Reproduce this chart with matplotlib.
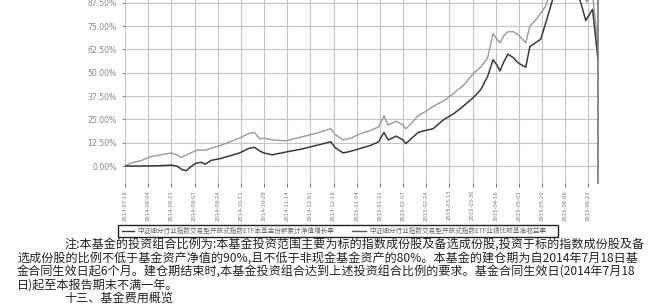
import matplotlib
matplotlib.use("Agg")
import matplotlib.pyplot as plt
from matplotlib.patches import Rectangle
from matplotlib.lines import Line2D
import pandas as pd

plt.rcParams["font.family"] = ["Noto Sans CJK SC", "DejaVu Sans"]

# cumulative NAV growth of the fund (dark line), percent
fund_dates = [
    "2014-07-18", "2014-07-30", "2014-08-13", "2014-08-21", "2014-08-25", "2014-08-29",
    "2014-09-01", "2014-09-04", "2014-09-08", "2014-09-12", "2014-09-15", "2014-09-19",
    "2014-09-26", "2014-10-03", "2014-10-10", "2014-10-17", "2014-10-21", "2014-10-25",
    "2014-10-28", "2014-11-03", "2014-11-13", "2014-11-24", "2014-12-05", "2014-12-16",
    "2014-12-19", "2014-12-25", "2014-12-31", "2015-01-07", "2015-01-14", "2015-01-20",
    "2015-01-24", "2015-01-27", "2015-02-02", "2015-02-07", "2015-02-09", "2015-02-12",
    "2015-02-18", "2015-02-23", "2015-03-01", "2015-03-09", "2015-03-16", "2015-03-23",
    "2015-03-31", "2015-04-05", "2015-04-10", "2015-04-14", "2015-04-17", "2015-04-19",
    "2015-04-22", "2015-04-25", "2015-04-29", "2015-05-03", "2015-05-08", "2015-05-11",
    "2015-05-15", "2015-05-19", "2015-05-24", "2015-05-28", "2015-06-02", "2015-06-08",
    "2015-06-13", "2015-06-18", "2015-06-21", "2015-06-26", "2015-06-30",
]
fund_pct = [
    0.0, 0.0, 0.2, 0.5, 0.0, -2.0,
    -2.5, -0.5, 1.5, 2.0, 1.0, 3.0,
    4.0, 5.5, 7.0, 9.5, 10.0, 8.0,
    7.0, 6.0, 7.5, 9.0, 11.0, 13.0,
    10.0, 7.0, 8.0, 9.5, 11.0, 13.0,
    18.0, 14.0, 16.0, 14.0, 12.0, 14.0,
    18.0, 19.0, 20.0, 25.0, 28.0, 32.0,
    37.0, 41.0, 48.0, 57.0, 54.0, 51.0,
    56.0, 60.0, 58.0, 55.0, 53.0, 64.0,
    66.0, 68.0, 80.0, 90.0, 96.0, 100.0,
    98.0, 86.0, 78.0, 84.0, 57.0,
]

# benchmark return (grey line), percent
bench_dates = [
    "2014-07-18", "2014-07-22", "2014-07-30", "2014-08-06", "2014-08-13", "2014-08-21",
    "2014-08-25", "2014-08-28", "2014-09-01", "2014-09-09", "2014-09-15", "2014-09-19",
    "2014-09-26", "2014-10-03", "2014-10-10", "2014-10-17", "2014-10-21", "2014-10-25",
    "2014-10-28", "2014-11-03", "2014-11-13", "2014-11-24", "2014-12-05", "2014-12-16",
    "2014-12-19", "2014-12-25", "2014-12-31", "2015-01-07", "2015-01-14", "2015-01-20",
    "2015-01-24", "2015-01-27", "2015-02-02", "2015-02-07", "2015-02-09", "2015-02-12",
    "2015-02-18", "2015-02-23", "2015-03-01", "2015-03-09", "2015-03-16", "2015-03-23",
    "2015-03-31", "2015-04-05", "2015-04-10", "2015-04-14", "2015-04-17", "2015-04-19",
    "2015-04-22", "2015-04-25", "2015-04-29", "2015-05-03", "2015-05-08", "2015-05-11",
    "2015-05-15", "2015-05-22", "2015-05-28", "2015-06-08", "2015-06-13", "2015-06-18",
    "2015-06-22", "2015-06-26", "2015-06-30",
]
bench_pct = [
    0.0, 1.5, 3.0, 5.0, 6.0, 7.0,
    6.0, 4.5, 6.0, 8.5, 8.5, 9.5,
    11.0, 13.0, 15.0, 17.5, 18.0, 14.5,
    15.0, 14.0, 13.5, 15.5, 17.5, 20.0,
    17.0, 14.0, 15.0, 17.5, 19.0, 21.0,
    27.0, 22.0, 24.0, 22.0, 20.0, 22.0,
    27.0, 29.0, 32.0, 35.0, 39.0, 43.0,
    50.0, 53.0, 58.0, 71.0, 68.0, 66.0,
    70.0, 72.0, 72.0, 70.0, 66.0, 75.0,
    78.0, 85.0, 96.0, 108.0, 106.0, 92.0,
    88.0, 92.0, 65.0,
]

tick_dates = [
    "2014-07-18", "2014-08-04", "2014-08-21", "2014-09-07", "2014-09-24", "2014-10-11",
    "2014-10-28", "2014-11-14", "2014-12-01", "2014-12-18", "2015-01-04", "2015-01-21",
    "2015-02-07", "2015-02-24", "2015-03-13", "2015-03-30", "2015-04-16", "2015-05-03",
    "2015-05-20", "2015-06-06", "2015-06-23",
]
y_ticks = [0, 12.5, 25, 37.5, 50, 62.5, 75, 87.5]

legend_labels = [
    "中证细分行业指数交易型开放式指数ETF本基金份额累计净值增长率",
    "中证细分行业指数交易型开放式指数ETF业绩比较基准收益率",
]

note_lines = [
    "注:本基金的投资组合比例为:本基金投资范围主要为标的指数成份股及备选成份股,投资于标的指数成份股及备",
    "选成份股的比例不低于基金资产净值的90%,且不低于非现金基金资产的80%。本基金的建仓期为自2014年7月18日基",
    "金合同生效日起6个月。建仓期结束时,本基金投资组合达到上述投资组合比例的要求。基金合同生效日(2014年7月18",
    "日)起至本报告期末不满一年。",
    "十三、基金费用概览",
]

W, H = 658, 305
fig = plt.figure(figsize=(W / 100, H / 100), dpi=100)


def fx(px):
    return px / W


def fy(py):
    # pixel row from the top -> figure fraction
    return 1 - py / H


# axes top runs past the figure edge: the source page is cropped there
ax = fig.add_axes([fx(125), fy(183), fx(598 - 125), 226.8 / H])

fd = pd.to_datetime(fund_dates)
bd = pd.to_datetime(bench_dates)
ax.plot(bd, bench_pct, color="#9a9a9a", lw=1.0)
ax.plot(fd, fund_pct, color="#3a3a3a", lw=1.1)

ax.set_xlim(pd.Timestamp("2014-07-18"), pd.Timestamp("2015-06-30"))
ax.set_ylim(-9.1, 112.5)
ax.set_yticks(y_ticks)
ax.set_yticklabels([f"{v:.2f}%" for v in y_ticks])
ax.set_xticks(pd.to_datetime(tick_dates))
ax.set_xticklabels(tick_dates, rotation=90)
ax.tick_params(axis="y", labelsize=5.6, colors="#888888", length=2, pad=4)
ax.tick_params(axis="x", labelsize=3.8, colors="#777777", length=3, pad=2)
for lab in ax.get_xticklabels() + ax.get_yticklabels():
    lab.set_family("DejaVu Sans")
ax.grid(True, color="#c4c4c4", lw=0.8)
for s in ["top", "left", "bottom"]:
    ax.spines[s].set_visible(False)
ax.spines["right"].set_color("#777777")
ax.spines["right"].set_linewidth(1.2)

# legend drawn by hand in figure pixels, below the tick labels
fig.add_artist(Rectangle((fx(118), fy(236.5)), fx(558 - 118), 11.5 / H, transform=fig.transFigure,
                         fill=False, edgecolor="#222222", lw=1.0))
leg_y = fy(230.8)
for (x0, x1), label, col in zip([(122, 134), (352, 366)], legend_labels, ["#3a3a3a", "#555555"]):
    fig.add_artist(Line2D([fx(x0), fx(x1)], [leg_y, leg_y], transform=fig.transFigure, color=col, lw=1.0))
    fig.text(fx(x1 + 3), leg_y, label, fontsize=4.8, va="center", ha="left", color="#666666")

note_x = [64, 17, 17, 17, 64]
note_y = [244, 258, 271.5, 285, 298]
for txt, x, y in zip(note_lines, note_x, note_y):
    fig.text(fx(x), fy(y), txt, fontsize=8.7, va="center", ha="left", color="#222222")

fig.savefig("out.png", dpi=100)
